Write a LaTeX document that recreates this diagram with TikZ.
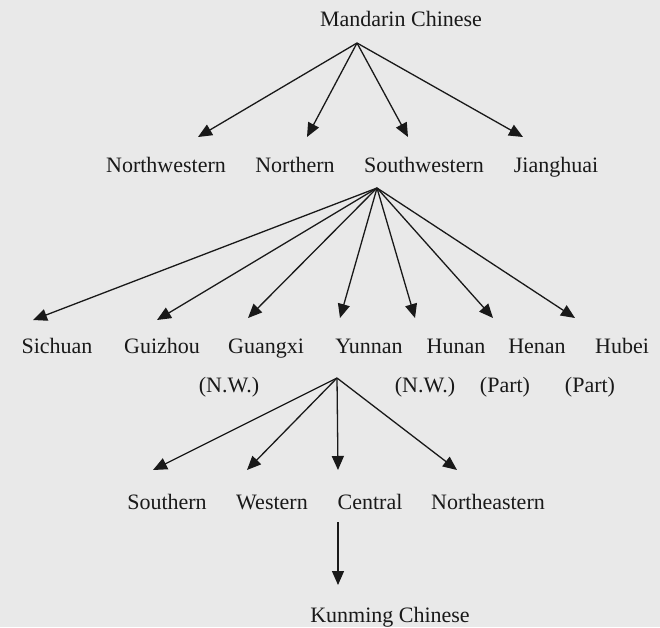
\documentclass[tikz,border=0pt]{standalone}
\usepackage{fontspec}
\setmainfont{Liberation Serif}
\usetikzlibrary{arrows.meta}
\definecolor{paper}{RGB}{233,233,233}
\definecolor{ink}{RGB}{25,25,25}
\tikzset{
  lbl/.style={anchor=base, inner sep=0pt, text=ink, font=\fontsize{22}{26}\selectfont},
  arr/.style={draw=ink, line width=1.3pt, -{Triangle[length=14pt,width=12pt]}}
}
\begin{document}
\begin{tikzpicture}[x=1pt,y=-1pt]
\fill[paper] (0,0) rectangle (660,627);
\useasboundingbox (0,0) rectangle (660,627);
% level 1
\node[lbl] (mc) at (401,26) {Mandarin Chinese};
\coordinate (mcA) at (357,43);
% level 2
\node[lbl] (nw) at (166,172) {Northwestern};
\node[lbl] (no) at (295,172) {Northern};
\node[lbl] (sw) at (424,172) {Southwestern};
\node[lbl] (jh) at (556,172) {Jianghuai};
\coordinate (nwT) at (198,137);
\coordinate (noT) at (307,137);
\coordinate (swT) at (408,137);
\coordinate (jhT) at (523,137);
\coordinate (swA) at (377,188);
% level 3
\node[lbl] (sc) at (57,353) {Sichuan};
\node[lbl] (gz) at (162,353) {Guizhou};
\node[lbl] (gx) at (266,353) {Guangxi};
\node[lbl] (yn) at (369,353) {Yunnan};
\node[lbl] (hn) at (456,353) {Hunan};
\node[lbl] (he) at (537,353) {Henan};
\node[lbl] (hb) at (622,353) {Hubei};
\node[lbl] (gxs) at (229,392) {(N.W.)};
\node[lbl] (hns) at (425,392) {(N.W.)};
\node[lbl] (hes) at (505,392) {(Part)};
\node[lbl] (hbs) at (590,392) {(Part)};
\coordinate (scT) at (33,320);
\coordinate (gzT) at (157,320);
\coordinate (gxT) at (248,318);
\coordinate (ynT) at (340,318);
\coordinate (hnT) at (415,318);
\coordinate (heT) at (493,318);
\coordinate (hbT) at (575,318);
\coordinate (ynA) at (337,378);
% level 4
\node[lbl] (so) at (167,509) {Southern};
\node[lbl] (we) at (272,509) {Western};
\node[lbl] (ce) at (370,509) {Central};
\node[lbl] (ne) at (488,509) {Northeastern};
\coordinate (soT) at (153,470);
\coordinate (weT) at (247,470);
\coordinate (ceT) at (338,470);
\coordinate (neT) at (457,470);
\coordinate (ceA) at (338,522);
% level 5
\node[lbl] (km) at (390,622) {Kunming Chinese};
\coordinate (kmT) at (338,585);
% connectors
\foreach \t in {nwT,noT,swT,jhT} \draw[arr] (mcA) -- (\t);
\foreach \t in {scT,gzT,gxT,ynT,hnT,heT,hbT} \draw[arr] (swA) -- (\t);
\foreach \t in {soT,weT,ceT,neT} \draw[arr] (ynA) -- (\t);
\draw[arr] (ceA) -- (kmT);
\end{tikzpicture}
\end{document}
